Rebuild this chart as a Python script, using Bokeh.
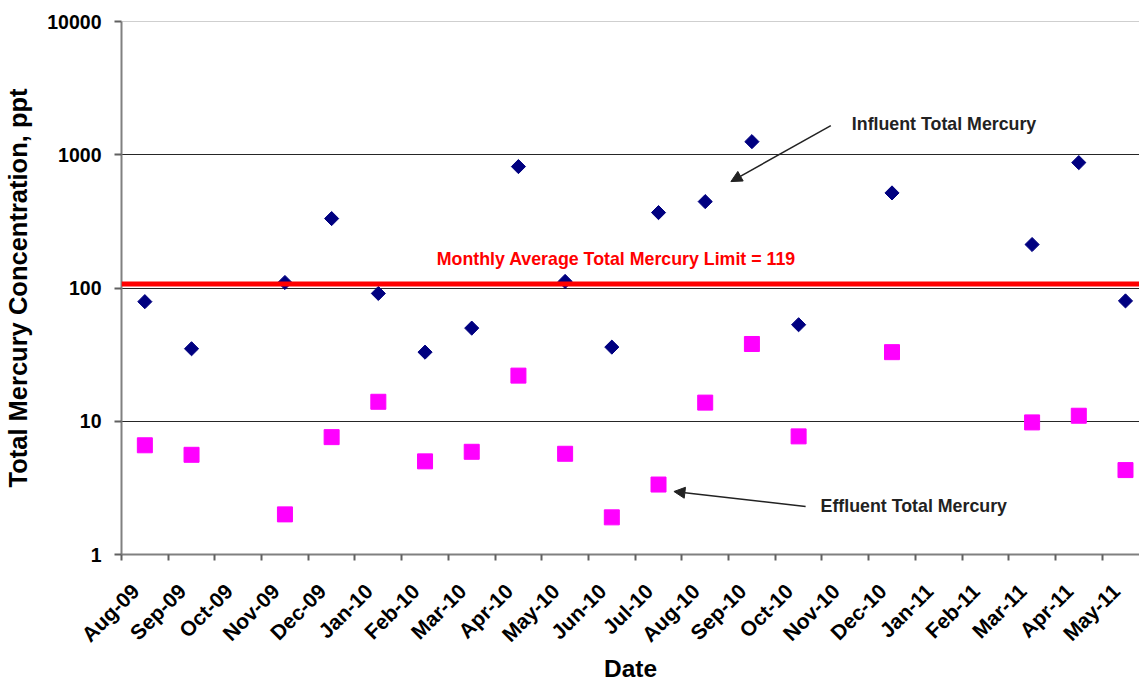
import math
from bokeh.plotting import figure
from bokeh.models import (Range1d, FixedTicker, CustomJSTickFormatter, Span, Arrow,
                          NormalHead, Label, ColumnDataSource, LinearAxis)
from bokeh.embed import file_html
from bokeh.resources import INLINE

# ---- data ----
month_labels = ["Aug-09", "Sep-09", "Oct-09", "Nov-09", "Dec-09", "Jan-10", "Feb-10",
                "Mar-10", "Apr-10", "May-10", "Jun-10", "Jul-10", "Aug-10", "Sep-10",
                "Oct-10", "Nov-10", "Dec-10", "Jan-11", "Feb-11", "Mar-11", "Apr-11",
                "May-11"]
sample_months = ["Aug-09", "Sep-09", "Nov-09", "Dec-09", "Jan-10", "Feb-10", "Mar-10",
                 "Apr-10", "May-10", "Jun-10", "Jul-10", "Aug-10", "Sep-10", "Oct-10",
                 "Dec-10", "Mar-11", "Apr-11", "May-11"]
influent = [79, 35, 110, 332, 91, 33, 50, 815, 112, 36, 368, 445, 1254, 53, 517, 212, 873, 80]
effluent = [6.6, 5.6, 2.0, 7.6, 14, 5.0, 5.9, 22, 5.7, 1.9, 3.35, 13.8, 38, 7.7, 33, 9.8, 11, 4.3]
limit_label = "Monthly Average Total Mercury Limit = 119"
limit_line_value = 107
y_ticks = [1, 10, 100, 1000, 10000]

FONT = "Liberation Sans"
LABEL_SHIFT = 0.3  # rotated month labels sit a little right of their tick

# mid-month positions on the month index scale
xpos = [month_labels.index(m) + 0.5 for m in sample_months]
src = ColumnDataSource(dict(x=xpos, inf=influent, eff=effluent))

p = figure(width=1139, height=685, output_backend="svg", toolbar_location=None,
           x_range=Range1d(0, 21.8), y_range=Range1d(1, 10000), y_axis_type="log",
           min_border_left=121, min_border_top=21, min_border_right=0,
           min_border_bottom=131)
p.outline_line_color = None
p.background_fill_color = "white"

# grid
p.xgrid.visible = False
p.ygrid.ticker = FixedTicker(ticks=[10, 100, 1000])
p.ygrid.grid_line_color = "black"
p.ygrid.grid_line_width = 1
p.ygrid.grid_line_alpha = 0.85
p.add_layout(Span(location=10000, dimension="width", line_color="#a0a0a0", line_width=1))

# limit line
p.add_layout(Span(location=limit_line_value, dimension="width", line_color="#ff0000", line_width=5))

# x axis: tick marks at month starts
xa = p.xaxis[0]
xa.ticker = FixedTicker(ticks=list(range(len(month_labels))))
xa.major_label_overrides = {i: "" for i in range(len(month_labels))}
xa.major_label_text_font_size = "1px"
xa.major_label_standoff = 0
xa.major_tick_out = 6
xa.major_tick_in = 0
xa.minor_tick_out = 0
xa.minor_tick_in = 0
xa.axis_line_color = "#808080"
xa.axis_line_width = 2
xa.major_tick_line_color = "#606060"
xa.major_tick_line_width = 2

# x axis: rotated month labels
label_ticks = [i + LABEL_SHIFT for i in range(len(month_labels))]
xb = LinearAxis(ticker=FixedTicker(ticks=label_ticks))
xb.major_label_overrides = {t: m for t, m in zip(label_ticks, month_labels)}
xb.major_label_orientation = math.pi / 4
xb.major_label_text_font = FONT
xb.major_label_text_font_style = "bold"
xb.major_label_text_font_size = "21px"
xb.major_label_text_color = "black"
xb.major_label_standoff = 27
xb.axis_line_color = None
xb.major_tick_line_color = None
xb.minor_tick_line_color = None
xb.major_tick_out = 0
xb.major_tick_in = 0
xb.minor_tick_out = 0
xb.minor_tick_in = 0
xb.axis_label = "Date"
xb.axis_label_text_font = FONT
xb.axis_label_text_font_style = "bold"
xb.axis_label_text_font_size = "24.5px"
xb.axis_label_text_color = "black"
xb.axis_label_standoff = -2
p.add_layout(xb, "below")

ya = p.yaxis[0]
ya.ticker = FixedTicker(ticks=y_ticks)
ya.formatter = CustomJSTickFormatter(code="return Math.round(tick).toString();")
ya.major_label_text_font = FONT
ya.major_label_text_font_style = "bold"
ya.major_label_text_font_size = "19.5px"
ya.major_label_text_color = "black"
ya.major_tick_out = 7
ya.major_tick_in = 0
ya.minor_tick_out = 0
ya.minor_tick_in = 0
ya.axis_line_color = "#808080"
ya.axis_line_width = 2
ya.major_tick_line_color = "#606060"
ya.major_tick_line_width = 2
ya.major_label_standoff = 13
ya.axis_label = "Total Mercury Concentration, ppt"
ya.axis_label_text_font = FONT
ya.axis_label_text_font_style = "bold"
ya.axis_label_text_font_size = "25.5px"
ya.axis_label_text_color = "black"
ya.axis_label_standoff = 12

# markers
p.scatter("x", "eff", source=src, marker="square", size=15, fill_color="#ff00ff",
          line_color="#ff00ff")
p.scatter("x", "inf", source=src, marker="square", angle=math.pi / 4, size=10,
          fill_color="#000080", line_color="#000080")

# annotations
p.add_layout(Label(x=6.75, y=166, text=limit_label, text_font=FONT, text_font_style="bold",
                   text_font_size="17.8px", text_color="#ff0000", text_baseline="middle"))
p.add_layout(Label(x=15.64, y=1711, text="Influent Total Mercury", text_font=FONT,
                   text_font_style="bold", text_font_size="17.8px", text_color="#222222",
                   text_baseline="middle"))
p.add_layout(Label(x=14.97, y=2.33, text="Effluent Total Mercury", text_font=FONT,
                   text_font_style="bold", text_font_size="17.8px", text_color="#222222",
                   text_baseline="middle"))
p.add_layout(Arrow(x_start=15.19, y_start=1652, x_end=13.05, y_end=629,
                   line_color="#222222", line_width=1.5,
                   end=NormalHead(size=11, fill_color="#222222", line_color="#222222")))
p.add_layout(Arrow(x_start=14.65, y_start=2.29, x_end=11.83, y_end=2.97,
                   line_color="#222222", line_width=1.5,
                   end=NormalHead(size=11, fill_color="#222222", line_color="#222222")))

open("out.html", "w").write(file_html(p, INLINE))
